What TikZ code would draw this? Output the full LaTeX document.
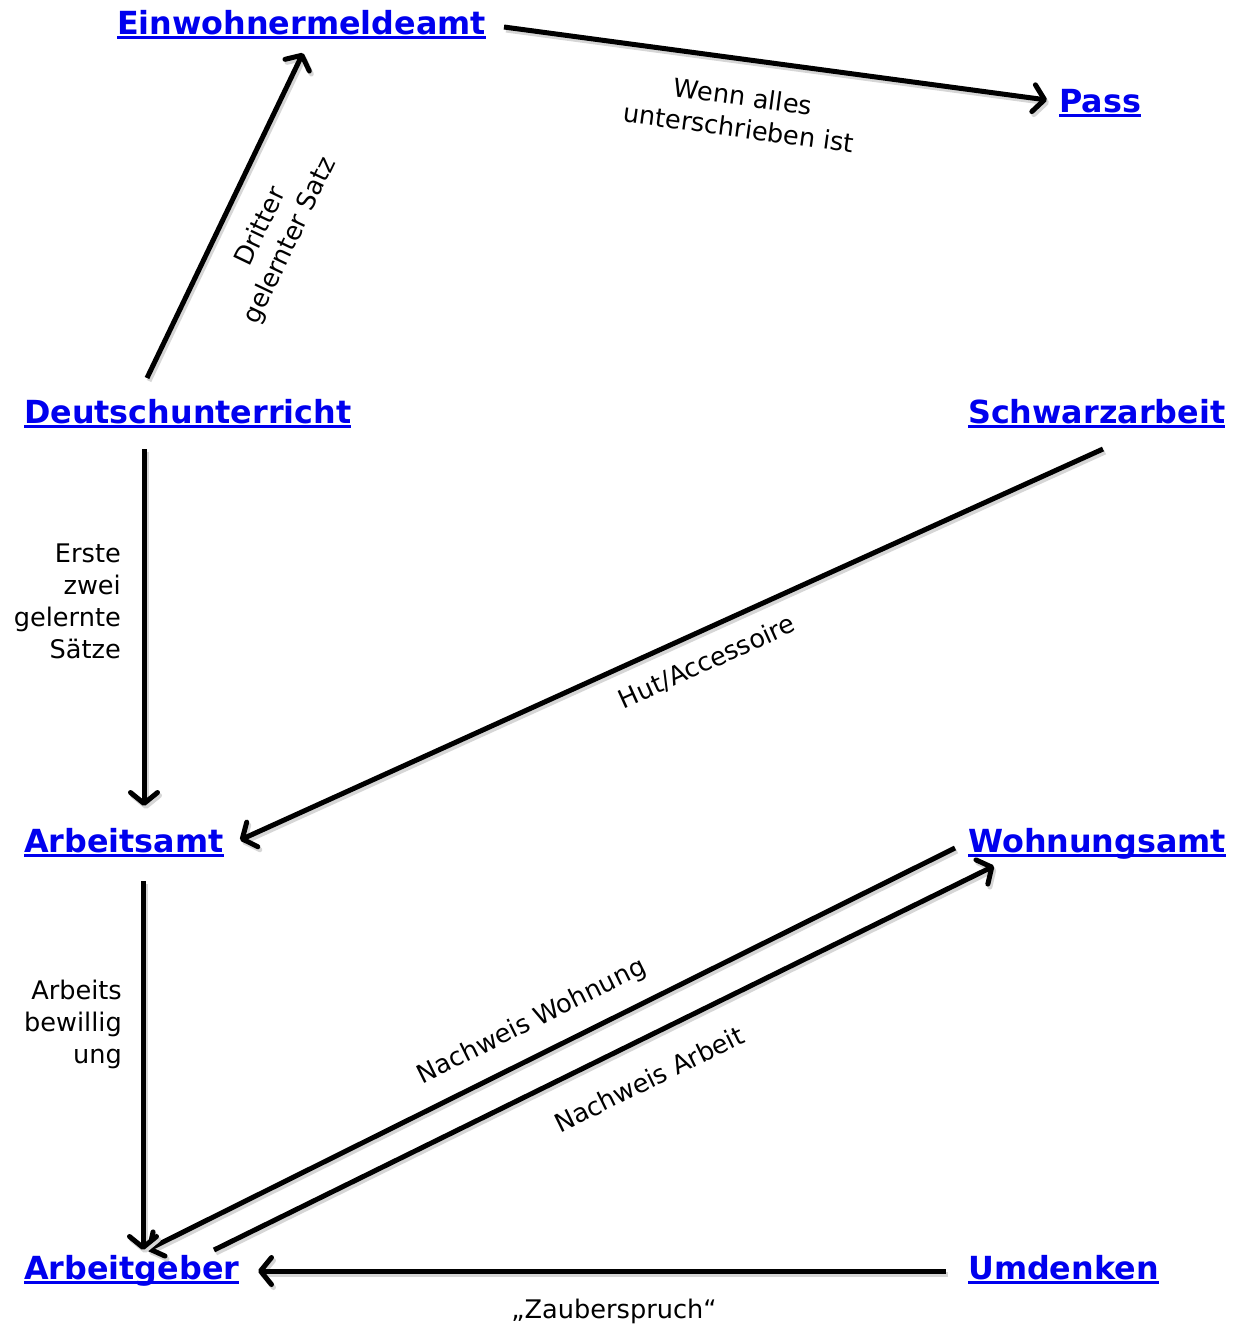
\documentclass[tikz,border=0pt]{standalone}
\usepackage{fontspec}
\setmainfont{DejaVu Sans}
\usetikzlibrary{arrows.meta}
\definecolor{linkblue}{RGB}{0,0,238}
\newcommand\lnk[1]{\setbox0=\hbox{#1}\rlap{\rule[-5pt]{\wd0}{3pt}}\box0}
\begin{document}
\begin{tikzpicture}[x=1pt,y=-1pt,
  place/.style={anchor=base west, inner sep=0pt, text=linkblue, font=\bfseries\fontsize{31.8}{38}\selectfont},
  lbl/.style={inner sep=0pt, font=\fontsize{25.6}{32}\selectfont},
  conn/.style={line width=5pt, -{Straight Barb[length=11pt,width=27pt,round]},
    preaction={draw=black!16, line width=5pt, transform canvas={shift={(2,3)}}}}
]
\useasboundingbox (0,0) rectangle (1241,1326);
% places
\node[place] (ein)  at (117,34)   {\lnk{Einwohnermeldeamt}};
\node[place] (pass) at (1059,112) {\lnk{Pass}};
\node[place] (deu)  at (24,423)   {\lnk{Deutschunterricht}};
\node[place] (sch)  at (968,423)  {\lnk{Schwarzarbeit}};
\node[place] (ams)  at (24,852)   {\lnk{Arbeitsamt}};
\node[place] (woh)  at (968,852)  {\lnk{Wohnungsamt}};
\node[place] (ag)   at (24,1279)  {\lnk{Arbeitgeber}};
\node[place] (umd)  at (968,1279) {\lnk{Umdenken}};
% connectors
\draw[conn] ([shift={(123,-45)}]deu.base west) -- ([shift={(186,19)}]ein.base west);
\draw[conn] ([shift={(387,-7)}]ein.base west) -- ([shift={(-12,-12)}]pass.base west);
\draw[conn] ([shift={(120,26)}]deu.base west) -- ([shift={(120,-46)}]ams.base west);
\draw[conn] ([shift={(135,26)}]sch.base west) -- ([shift={(216,-12)}]ams.base west);
\draw[conn] ([shift={(-13,-4)}]woh.base west) -- ([shift={(123,-29)}]ag.base west);
\draw[conn] ([shift={(190,-29)}]ag.base west) -- ([shift={(26,14)}]woh.base west);
\draw[conn] ([shift={(119,29)}]ams.base west) -- ([shift={(119,-29)}]ag.base west);
\draw[conn] ([shift={(-22,-8)}]umd.base west) -- ([shift={(234,-8)}]ag.base west);
% labels
\node[lbl, align=center, rotate=64.4] (l1) at (276,234) {Dritter\\gelernter Satz};
\node[lbl, align=center, rotate=-7.7] (l2) at (741,112) {Wenn alles\\unterschrieben ist};
\node[lbl, align=right, anchor=east] (l3) at (121,601) {Erste\\zwei\\gelernte\\Sätze};
\node[lbl, rotate=24.4] (l4) at (707,662) {Hut/Accessoire};
\node[lbl, align=right, anchor=east] (l5) at (122,1024) {Arbeits\\bewillig\\ung};
\node[lbl, rotate=26.4] (l6) at (532,1022) {Nachweis Wohnung};
\node[lbl, rotate=26.2] (l7) at (649,1079) {Nachweis Arbeit};
\node[lbl, anchor=base] (l8) at (614,1318) {„Zauberspruch“};
\end{tikzpicture}
\end{document}
